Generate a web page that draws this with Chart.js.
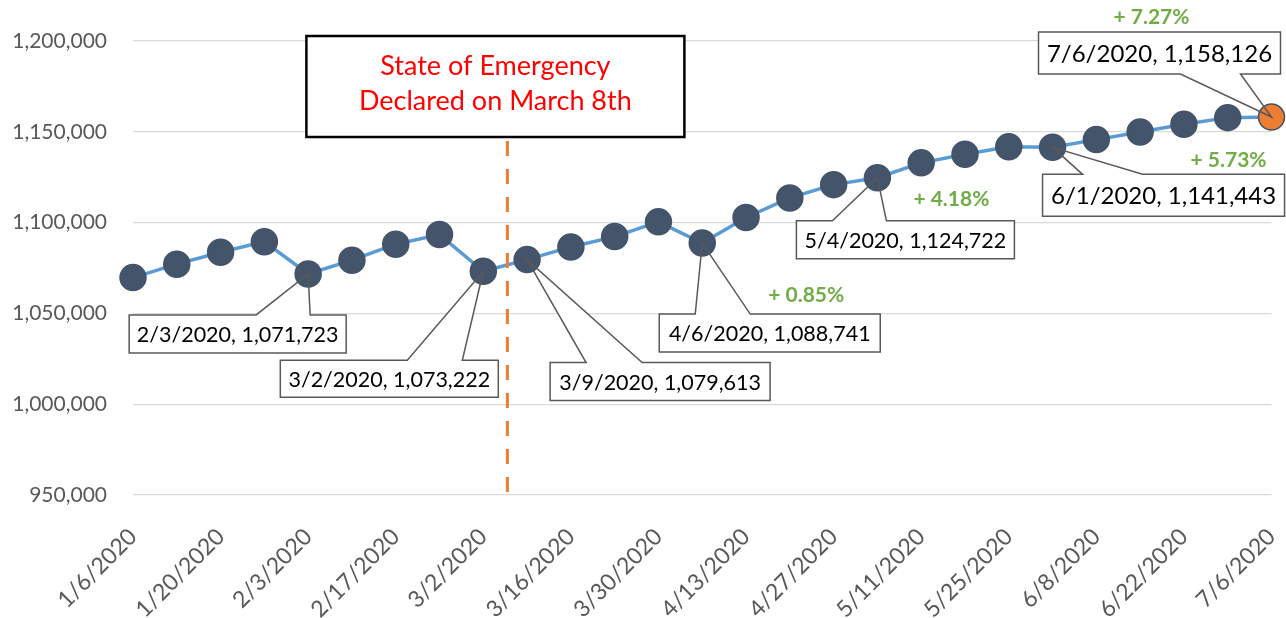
<!DOCTYPE html>
<html><head><meta charset="utf-8">
<script src="https://cdn.jsdelivr.net/npm/chart.js@4.4.1/dist/chart.umd.min.js"></script>
<style>html,body{margin:0;padding:0;background:#fff}#wrap{width:1286px;height:618px;position:relative}</style>
</head><body><div id="wrap"><canvas id="c"></canvas></div>
<script>
// ---- data ----
const weeks = ['1/6/2020','1/13/2020','1/20/2020','1/27/2020','2/3/2020','2/10/2020','2/17/2020','2/24/2020',
  '3/2/2020','3/9/2020','3/16/2020','3/23/2020','3/30/2020','4/6/2020','4/13/2020','4/20/2020','4/27/2020',
  '5/4/2020','5/11/2020','5/18/2020','5/25/2020','6/1/2020','6/8/2020','6/15/2020','6/22/2020','6/29/2020','7/6/2020'];
const enrollment = [1069700,1077100,1083700,1089500,1071723,1079300,1088100,1093400,
  1073222,1079613,1086600,1092300,1100400,1088741,1102800,1113600,1120900,
  1124722,1132900,1137600,1141800,1141443,1145700,1149900,1154200,1157800,1158126];
const yMin = 950000, yMax = 1200000, yStep = 50000;
const calloutIdx = [4, 8, 9, 13, 17, 21, 26];
const pctIdx = [13, 17, 21, 26];
const pctBaseIdx = 9;
const emergencyText = ['State of Emergency', 'Declared on March 8th'];
const emergencyPos = 8.55;

// ---- layout / style (pixels relative to points) ----
const calloutLayout = {
  4:  {dx:-179, dy:41,  w:217, h:38, side:'top', a:-52, b:2,   size:21.5},
  8:  {dx:-203, dy:89,  w:218, h:37, side:'top', a:-76, b:-21, size:21.5},
  9:  {dx:23,   dy:103, w:220, h:38, side:'top', a:59,  b:115, size:21.5},
  13: {dx:-43,  dy:71,  w:221, h:38, side:'top', a:-7,  b:48,  size:21.5},
  17: {dx:-81,  dy:43,  w:218, h:38, side:'top', a:-45, b:9,   size:21.5},
  21: {dx:-10,  dy:27,  w:242, h:42, side:'top', a:30,  b:90,  size:24},
  26: {dx:-233, dy:-85, w:242, h:42, side:'bottom', a:-91, b:-31, size:24}
};
const pctLayout = {13:{dx:104,dy:52}, 17:{dx:74,dy:22}, 21:{dx:176,dy:13}, 26:{dx:-120,dy:-100}};
const FONT = 'Lato';

const fmt = v => v.toLocaleString('en-US');

function calloutPath(ctx, L, T, W, H, c, px, py) {
  const R = L + W, B = T + H;
  ctx.beginPath();
  if (c.side === 'top') {
    ctx.moveTo(L, T); ctx.lineTo(px + c.a, T); ctx.lineTo(px, py); ctx.lineTo(px + c.b, T);
    ctx.lineTo(R, T); ctx.lineTo(R, B); ctx.lineTo(L, B); ctx.closePath();
  } else {
    ctx.moveTo(L, T); ctx.lineTo(R, T); ctx.lineTo(R, B); ctx.lineTo(px + c.b, B); ctx.lineTo(px, py);
    ctx.lineTo(px + c.a, B); ctx.lineTo(L, B); ctx.closePath();
  }
}

const annot = {
  id: 'annot',
  beforeDatasetsDraw(chart) {
    const ctx = chart.ctx, meta = chart.getDatasetMeta(0);
    ctx.save();
    calloutIdx.forEach(i => {
      const p = meta.data[i], c = calloutLayout[i];
      calloutPath(ctx, p.x + c.dx, p.y + c.dy, c.w, c.h, c, p.x, p.y);
      ctx.fillStyle = '#fff'; ctx.fill();
    });
    ctx.restore();
  },
  afterDatasetsDraw(chart) {
    const ctx = chart.ctx, meta = chart.getDatasetMeta(0), xs = chart.scales.x, ca = chart.chartArea;
    ctx.save();
    // emergency marker
    const ex = xs.getPixelForValue(emergencyPos);
    const boxL = ex - 201, boxT = 36, boxW = 378, boxH = 101;
    ctx.strokeStyle = '#ED7D31'; ctx.lineWidth = 3; ctx.setLineDash([15, 13]);
    ctx.beginPath(); ctx.moveTo(ex, boxT + boxH + 4); ctx.lineTo(ex, ca.bottom - 2); ctx.stroke();
    ctx.setLineDash([]);
    ctx.fillStyle = '#fff'; ctx.fillRect(boxL, boxT, boxW, boxH);
    ctx.strokeStyle = '#000'; ctx.lineWidth = 2.5; ctx.strokeRect(boxL, boxT, boxW, boxH);
    ctx.fillStyle = '#FF0000'; ctx.font = '27px ' + FONT; ctx.textAlign = 'center'; ctx.textBaseline = 'middle';
    ctx.fillText(emergencyText[0], boxL + boxW / 2, 66);
    ctx.fillText(emergencyText[1], boxL + boxW / 2, 101);
    // callouts
    calloutIdx.forEach(i => {
      const p = meta.data[i], c = calloutLayout[i];
      const L = p.x + c.dx, T = p.y + c.dy;
      calloutPath(ctx, L, T, c.w, c.h, c, p.x, p.y);
      ctx.strokeStyle = '#595959'; ctx.lineWidth = 1.5; ctx.stroke();
      ctx.fillStyle = '#000'; ctx.font = c.size + 'px ' + FONT;
      ctx.textAlign = 'center'; ctx.textBaseline = 'middle';
      ctx.fillText(weeks[i] + ', ' + fmt(enrollment[i]), L + c.w / 2, T + c.h / 2 + 1);
    });
    // percentage labels
    ctx.fillStyle = '#70AD47'; ctx.font = 'bold 21px ' + FONT; ctx.textAlign = 'center'; ctx.textBaseline = 'middle';
    pctIdx.forEach(i => {
      const p = meta.data[i], o = pctLayout[i];
      const pct = ((enrollment[i] / enrollment[pctBaseIdx] - 1) * 100).toFixed(2);
      ctx.fillText('+ ' + pct + '%', p.x + o.dx, p.y + o.dy);
    });
    ctx.restore();
  }
};

new Chart(document.getElementById('c'), {
  type: 'line',
  data: {
    labels: weeks,
    datasets: [{
      data: enrollment,
      borderColor: '#5B9BD5', borderWidth: 3.5, tension: 0,
      pointRadius: 13, pointHoverRadius: 13, pointBorderWidth: 1.5,
      pointBackgroundColor: enrollment.map((v, i) => i === enrollment.length - 1 ? '#ED7D31' : '#44546A'),
      pointBorderColor: '#44546A',
      clip: false
    }]
  },
  options: {
    responsive: true, maintainAspectRatio: false, animation: false,
    devicePixelRatio: 1,
    layout: { padding: { top: 41, right: 13, left: 0, bottom: 0 } },
    plugins: { legend: { display: false }, tooltip: { enabled: false } },
    scales: {
      x: {
        offset: false,
        grid: { display: false }, border: { display: false },
        ticks: {
          autoSkip: false, maxRotation: 45, minRotation: 45, padding: 20,
          color: '#595959', font: { family: FONT, size: 23 },
          callback: (v, i) => (i % 2 === 0 ? weeks[i] : '')
        },
        afterFit: s => { s.height = 123; s.paddingLeft = 0; s.paddingRight = 0; }
      },
      y: {
        min: yMin, max: yMax,
        grid: { color: '#D9D9D9', lineWidth: 1.3, drawTicks: false }, border: { display: false },
        ticks: { stepSize: yStep, padding: 26, color: '#595959', font: { family: FONT, size: 21 }, callback: v => fmt(v) },
        afterFit: s => { s.width = 133; s.paddingTop = 0; s.paddingBottom = 0; }
      }
    }
  },
  plugins: [annot]
});
</script></body></html>
